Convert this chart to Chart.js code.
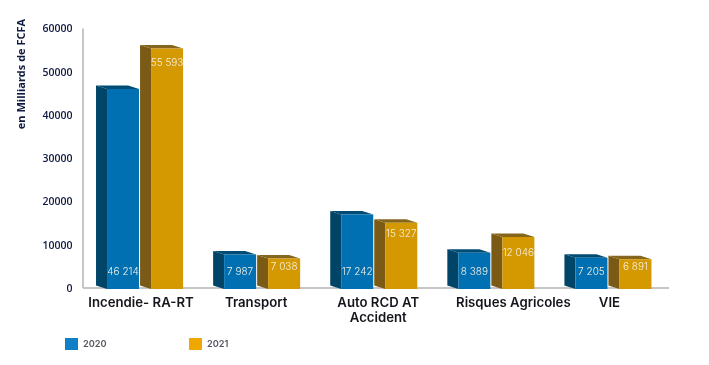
<!DOCTYPE html>
<html lang="en">
<head>
    <meta charset="UTF-8">
    <title>Primes 2020 / 2021</title>
    <script src="https://cdn.jsdelivr.net/npm/chart.js"></script>
    <style>
        html, body { margin: 0; padding: 0; background: #ffffff; overflow: hidden; }
        canvas { display: block; }
    </style>
</head>
<body>
    <canvas id="chart" width="709" height="365"></canvas>
    <script>
        const categories = ['Incendie- RA-RT', 'Transport', ['Auto RCD AT', 'Accident'], 'Risques Agricoles', 'VIE'];
        const values2020 = [46214, 7987, 17242, 8389, 7205];
        const values2021 = [55593, 7038, 15327, 12046, 6891];
        const labels2020 = ['46 214', '7 987', '17 242', '8 389', '7 205'];
        const labels2021 = ['55 593', '7 038', '15 327', '12 046', '6 891'];
        const seriesNames = ['2020', '2021'];
        const yTicks = [0, 10000, 20000, 30000, 40000, 50000, 60000];
        const yTitle = 'en Milliards de FCFA';

        // the original places some labels by hand: x offset of the category labels,
        // and distance of the 2021 value labels below the top of their bar
        const labelNudge = [-4, -6, -1, 17, -4];
        const label2021Drop = [14, 8, 11, 16, 8];

        const faces = [
            { front: '#0070b2', side: '#004468', top: '#004c74', swatch: '#1080c6' },
            { front: '#d49800', side: '#7a5a14', top: '#86661c', swatch: '#eea800' }
        ];
        const depthX = 11;
        const depthY = 3.5;

        function poly(ctx, pts, color) {
            ctx.fillStyle = color;
            ctx.beginPath();
            pts.forEach((p, i) => i ? ctx.lineTo(p[0], p[1]) : ctx.moveTo(p[0], p[1]));
            ctx.closePath();
            ctx.fill();
        }

        const bars3d = {
            id: 'bars3d',
            beforeDatasetsDraw(chart) {
                const ctx = chart.ctx;
                const ys = chart.scales.y;

                // axis lines
                ctx.save();
                ctx.fillStyle = '#c6c6c6';
                ctx.fillRect(82, ys.top - 1, 2, ys.bottom - ys.top);
                ctx.fillRect(83, ys.bottom - 2, 586, 2);

                // sides and tops of the bars
                chart.data.datasets.forEach((ds, d) => {
                    chart.getDatasetMeta(d).data.forEach(bar => {
                        const l = bar.x - bar.width / 2;
                        const r = bar.x + bar.width / 2;
                        poly(ctx, [[l, bar.y], [l - depthX, bar.y - depthY], [l - depthX, bar.base - depthY], [l, bar.base]], faces[d].side);
                        poly(ctx, [[l, bar.y], [r, bar.y], [r - depthX, bar.y - depthY], [l - depthX, bar.y - depthY]], faces[d].top);
                    });
                });
                ctx.restore();
            },
            afterDatasetsDraw(chart) {
                const ctx = chart.ctx;
                const xs = chart.scales.x;
                ctx.save();

                // value labels, 2020 sits at the foot of the bar and 2021 near the top
                ctx.font = '300 10px Inter';
                ctx.fillStyle = '#f4efe2';
                ctx.textAlign = 'center';
                ctx.textBaseline = 'middle';
                chart.getDatasetMeta(0).data.forEach((bar, i) => ctx.fillText(labels2020[i], bar.x, bar.base - 17));
                chart.getDatasetMeta(1).data.forEach((bar, i) => ctx.fillText(labels2021[i], bar.x, bar.y + label2021Drop[i]));

                // category labels
                ctx.font = '600 13.2px Inter';
                ctx.fillStyle = '#15151c';
                categories.forEach((cat, i) => {
                    const lines = Array.isArray(cat) ? cat : [cat];
                    lines.forEach((line, j) => ctx.fillText(line, xs.getPixelForTick(i) + labelNudge[i], 303 + j * 15));
                });

                // legend
                ctx.font = '600 9.2px Inter';
                ctx.textAlign = 'left';
                seriesNames.forEach((name, i) => {
                    const x = 65 + i * 124;
                    ctx.fillStyle = faces[i].swatch;
                    ctx.fillRect(x, 338, 13, 12);
                    ctx.fillStyle = '#55555f';
                    ctx.fillText(name, x + 18, 344);
                });

                // axis title
                ctx.translate(22, 74);
                ctx.rotate(-Math.PI / 2);
                ctx.textAlign = 'center';
                ctx.font = '700 11px "Open Sans"';
                ctx.fillStyle = '#101a40';
                ctx.fillText(yTitle, 0, 0);
                ctx.restore();
            }
        };

        new Chart(document.getElementById('chart').getContext('2d'), {
            type: 'bar',
            data: {
                labels: categories,
                datasets: [
                    { label: seriesNames[0], data: values2020, backgroundColor: faces[0].front },
                    { label: seriesNames[1], data: values2021, backgroundColor: faces[1].front }
                ]
            },
            options: {
                responsive: false,
                animation: false,
                devicePixelRatio: 1,
                categoryPercentage: 0.752,
                barPercentage: 0.727,
                layout: { padding: { top: 29.5, right: 37, bottom: 0, left: 0 } },
                plugins: { legend: { display: false }, tooltip: { enabled: false } },
                scales: {
                    x: {
                        grid: { display: false },
                        border: { display: false },
                        ticks: { display: false },
                        afterFit(s) { s.height = 76; }
                    },
                    y: {
                        min: 0,
                        max: 60000,
                        grid: { display: false },
                        border: { display: false },
                        afterBuildTicks(s) { s.ticks = yTicks.map(v => ({ value: v })); },
                        ticks: { padding: 6, color: '#101a40', callback: v => String(v), font: { family: 'Open Sans', size: 10.5, weight: '600' } },
                        afterFit(s) { s.width = 86.5; }
                    }
                }
            },
            plugins: [bars3d]
        });
    </script>
</body>
</html>
